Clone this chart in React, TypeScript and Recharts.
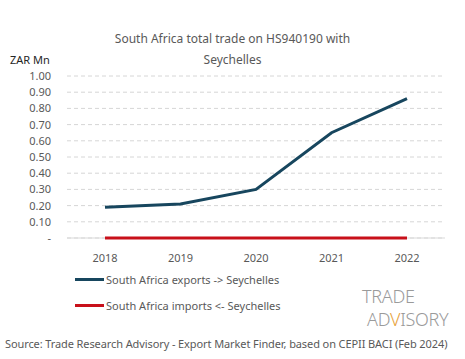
import { CartesianGrid, Line, LineChart, ReferenceLine, XAxis, YAxis } from 'recharts'

const years = ['2018', '2019', '2020', '2021', '2022']
const exportsToSeychelles = [0.19, 0.21, 0.3, 0.65, 0.86]
const importsFromSeychelles = [0, 0, 0, 0, 0]
const yTicks = [0, 0.1, 0.2, 0.3, 0.4, 0.5, 0.6, 0.7, 0.8, 0.9, 1.0]

const data = years.map((year, i) => ({
  year,
  exports: exportsToSeychelles[i],
  imports: importsFromSeychelles[i]
}))

const font = '"Noto Sans", sans-serif'
const textColor = '#595959'

const LegendRow = ({ color, label, top }: { color: string; label: string; top: number }) => (
  <div style={{ position: 'absolute', left: 75, top, display: 'flex', alignItems: 'center' }}>
    <div style={{ width: 29, height: 3, background: color, marginRight: 2 }} />
    <span style={{ fontSize: 11, color: textColor }}>{label}</span>
  </div>
)

const App = () => {
  return (
    <div
      style={{
        position: 'absolute',
        left: 0,
        top: 0,
        width: 465,
        height: 359,
        background: '#fff',
        fontFamily: font
      }}
    >
      <div
        style={{
          position: 'absolute',
          top: 28,
          left: 0,
          width: 465,
          textAlign: 'center',
          fontSize: 12,
          lineHeight: '21px',
          color: textColor
        }}
      >
        South Africa total trade on HS940190 with
        <br />
        Seychelles
      </div>
      <div style={{ position: 'absolute', left: 10, top: 52, fontSize: 11, color: '#262626' }}>ZAR Mn</div>

      <LineChart
        width={465}
        height={359}
        data={data}
        margin={{ top: 76, right: 20, bottom: 91, left: 0 }}
      >
        <CartesianGrid vertical={false} stroke="#d6d6d6" strokeDasharray="4 3" />
        <ReferenceLine y={0} stroke="#d9d9d9" />
        <XAxis
          dataKey="year"
          axisLine={false}
          tickLine={false}
          padding={{ left: 38, right: 38 }}
          tick={{ fill: textColor, fontSize: 11, fontFamily: font }}
          tickMargin={10}
        />
        <YAxis
          width={67}
          domain={[0, 1]}
          ticks={yTicks}
          interval={0}
          axisLine={false}
          tickLine={false}
          tickMargin={10}
          tickFormatter={(v: number) => (v === 0 ? '-' : v.toFixed(2))}
          tick={{ fill: textColor, fontSize: 11, fontFamily: font }}
        />
        <Line
          dataKey="exports"
          stroke="#17465e"
          strokeWidth={3}
          dot={false}
          isAnimationActive={false}
        />
        <Line
          dataKey="imports"
          stroke="#c8101a"
          strokeWidth={3}
          dot={false}
          isAnimationActive={false}
        />
      </LineChart>

      <LegendRow color="#17465e" label="South Africa exports -> Seychelles" top={272} />
      <LegendRow color="#c8101a" label="South Africa imports <- Seychelles" top={298} />

      <div
        style={{
          position: 'absolute',
          left: 362,
          top: 285,
          fontSize: 18,
          fontWeight: 300,
          lineHeight: '23px',
          color: '#9a9a9a',
          letterSpacing: -0.3
        }}
      >
        <div>TRADE</div>
        <div style={{ marginLeft: 5 }}>
          AD<span style={{ color: '#e8a33d' }}>V</span>ISORY
        </div>
      </div>

      <div
        style={{
          position: 'absolute',
          left: 5,
          top: 336,
          fontSize: 11,
          color: textColor,
          whiteSpace: 'nowrap',
          letterSpacing: -0.1
        }}
      >
        Source: Trade Research Advisory - Export Market Finder, based on CEPII BACI (Feb 2024)
      </div>
    </div>
  )
}

export default App
